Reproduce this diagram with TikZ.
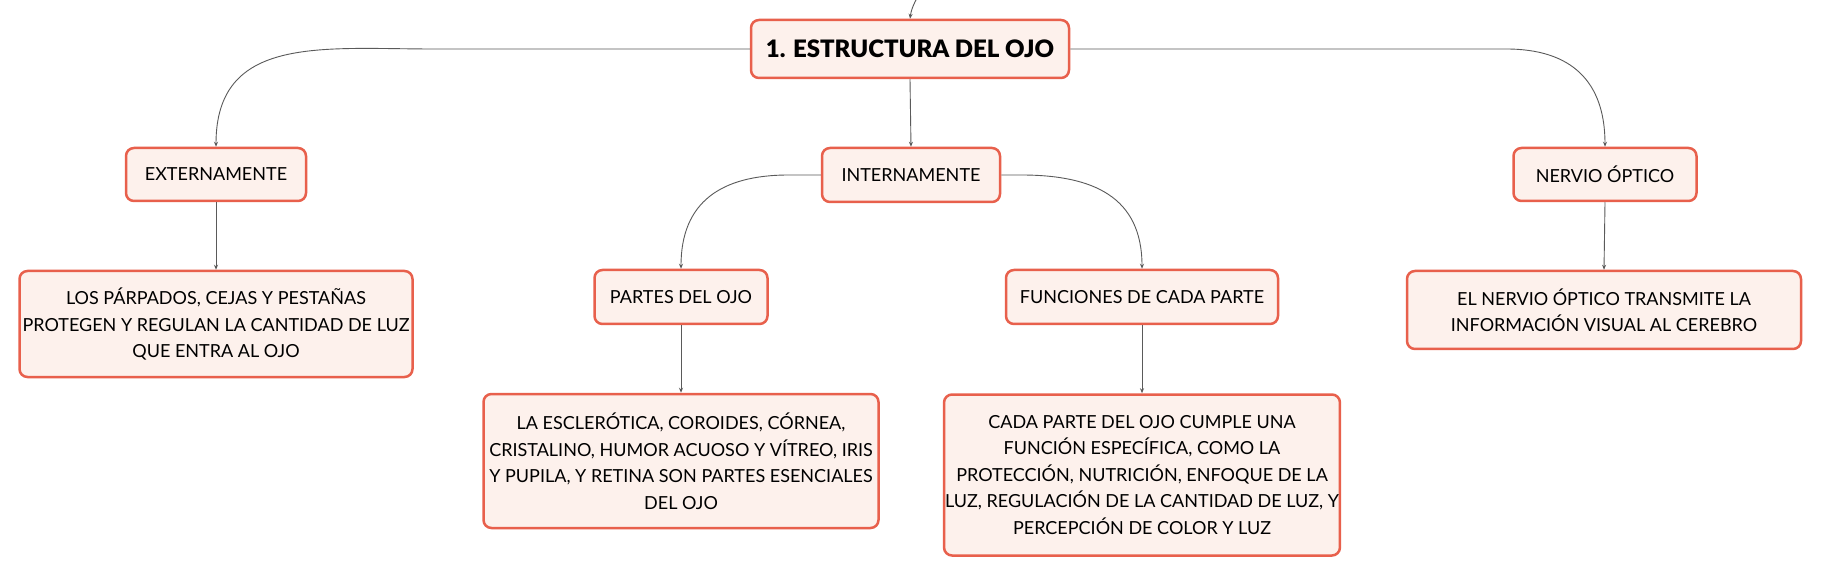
\documentclass[tikz,border=0pt]{standalone}
\usepackage{fontspec}
\setmainfont{Lato}
\newfontfamily\negrita{Lato Black}
\usepackage{tikz}
\usetikzlibrary{arrows, arrows.meta}
\usetikzlibrary{positioning}
\usepackage{xcolor}

\definecolor{borde}{HTML}{E8604C}
\definecolor{relleno}{HTML}{FDF1EC}
\definecolor{linea}{HTML}{5A5A5A}

\tikzset{
  caja/.style={draw=borde, fill=relleno, line width=2.5pt, rounded corners=8pt,
    align=center, inner xsep=1pt, inner ysep=2pt, font=\fontsize{18}{26.5}\selectfont},
  titulo/.style={caja, font=\fontsize{24}{26.5}\selectfont\negrita},
  enlace/.style={draw=linea, line width=0.9pt, -{Stealth[length=5pt,width=4pt]}}
}

\begin{document}
\begin{tikzpicture}[x=1pt, y=-1pt]

\fill[white] (0,0) rectangle (1821,577);
\useasboundingbox (0,0) rectangle (1821,577);

%main box
\node[titulo, minimum width=318, minimum height=58] (estructura) at (910,49) {1. ESTRUCTURA DEL OJO};
\coordinate (arriba) at (916,0);

%second level
\node[caja, minimum width=180, minimum height=53] (externa) at (216,174.5) {EXTERNAMENTE};
\node[caja, minimum width=178, minimum height=54] (interna) at (911,175) {INTERNAMENTE};
\node[caja, minimum width=183, minimum height=53] (nervio) at (1605,174.5) {NERVIO ÓPTICO};

%third level
\node[caja, minimum width=173, minimum height=54] (partes) at (681,297) {PARTES DEL OJO};
\node[caja, minimum width=272, minimum height=54] (funciones) at (1142,297) {FUNCIONES DE CADA PARTE};

%leaves
\node[caja, minimum width=393, minimum height=106] (parpados) at (216,324)
  {LOS PÁRPADOS, CEJAS Y PESTAÑAS\\PROTEGEN Y REGULAN LA CANTIDAD DE LUZ\\QUE ENTRA AL OJO};
\node[caja, minimum width=395, minimum height=134] (esclerotica) at (681,461)
  {LA ESCLERÓTICA, COROIDES, CÓRNEA,\\CRISTALINO, HUMOR ACUOSO Y VÍTREO, IRIS\\Y PUPILA, Y RETINA SON PARTES ESENCIALES\\DEL OJO};
\node[caja, minimum width=391, minimum height=161] (funcion) at (1142,475)
  {CADA PARTE DEL OJO CUMPLE UNA\\FUNCIÓN ESPECÍFICA, COMO LA\\PROTECCIÓN, NUTRICIÓN, ENFOQUE DE LA\\LUZ, REGULACIÓN DE LA CANTIDAD DE LUZ, Y\\PERCEPCIÓN DE COLOR Y LUZ};
\node[caja, minimum width=394, minimum height=78] (transmite) at (1604,310)
  {EL NERVIO ÓPTICO TRANSMITE LA\\INFORMACIÓN VISUAL AL CEREBRO};

%curved links
\draw[enlace] (arriba) to[bend right=10] (estructura.north);
\draw[enlace] (estructura.west) -- ++(-316,0) to[out=180, in=90, looseness=1.2] (externa.north);
\draw[enlace] (estructura.east) -- ++(436,0) to[out=0, in=90, looseness=1.2] (nervio.north);
\draw[enlace] (interna.west) -- ++(-32,0) to[out=180, in=90, looseness=1.2] (partes.north);
\draw[enlace] (interna.east) -- ++(20,0) to[out=0, in=90, looseness=1.2] (funciones.north);

%straight links
\draw[enlace] (estructura.south) -- (interna.north);
\draw[enlace] (externa.south) -- (parpados.north);
\draw[enlace] (partes.south) -- (esclerotica.north);
\draw[enlace] (funciones.south) -- (funcion.north);
\draw[enlace] (nervio.south) -- (transmite.north);

\end{tikzpicture}
\end{document}
